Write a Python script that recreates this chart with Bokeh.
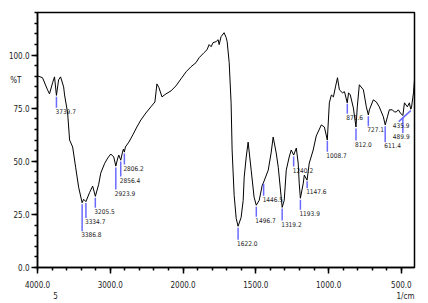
import numpy as np
from bokeh.plotting import figure
from bokeh.models import Range1d, FixedTicker, LinearAxis
from bokeh.core.properties import value
from bokeh.embed import file_html
from bokeh.resources import INLINE

# ---- data ----
wavenumber = [4000, 3931, 3862, 3835, 3793, 3766, 3740, 3710, 3683, 3641, 3628, 3586, 3559, 3517,
              3476, 3435, 3387, 3366, 3335, 3283, 3242, 3205, 3159, 3131, 3076, 3035, 2993, 2952,
              2924, 2897, 2883, 2856, 2835, 2820, 2806, 2793, 2745, 2690, 2635, 2580, 2511, 2442,
              2387, 2359, 2331, 2290, 2235, 2166, 2097, 2028,
              1979, 1945, 1911, 1890, 1856, 1835, 1821, 1807, 1794, 1773, 1759, 1752, 1739, 1718,
              1704, 1697, 1683, 1670, 1663, 1649, 1635, 1622, 1601, 1587, 1580, 1566, 1553, 1532,
              1512, 1497, 1477, 1456, 1446, 1415, 1395, 1381, 1360, 1346, 1319, 1305, 1291, 1271,
              1257, 1240, 1222, 1209, 1202, 1194, 1174, 1167, 1148, 1133, 1106, 1085, 1050, 1029,
              1009, 995, 981, 967, 953, 939, 926, 905, 891, 872, 863, 851, 830, 812, 803, 789,
              761, 741, 727, 720, 693, 672, 652, 624, 611, 596, 583, 562, 548, 535, 521, 507,
              490, 479, 459, 445, 436, 431, 417, 410]
transmittance = [90.2, 89.3, 83.6, 81.7, 86.9, 89.7, 81.0, 88.3, 89.7, 85.0, 81.2, 72.7, 60.0, 56.7,
                 47.2, 37.8, 30.5, 32.1, 31.0, 35.4, 38.3, 33.5, 39.2, 44.4, 49.1, 51.5, 53.4, 52.0,
                 47.7, 51.5, 52.9, 50.5, 53.9, 55.7, 54.3, 56.7, 59.0, 62.4, 66.1, 69.4, 72.7, 75.6,
                 77.9, 86.4, 84.6, 80.3, 81.7, 83.1, 85.5, 88.8,
                 92.1, 94.5, 96.4, 98.7, 101.1, 102.5, 104.9, 103.9, 105.8, 106.3, 107.2, 104.9, 108.6, 110.5,
                 108.2, 106.3, 96.4, 77.5, 55.3, 34.0, 23.1, 19.4, 23.6, 31.6, 42.5, 52.0, 59.0, 45.8,
                 33.1, 29.3, 31.6, 38.7, 40.2, 45.8, 53.9, 61.4, 53.9, 47.2, 28.3, 31.6, 45.8, 52.0,
                 55.3, 52.9, 56.2, 49.1, 39.7, 32.6, 39.7, 43.5, 41.1, 49.1, 55.3, 61.9, 67.1, 66.1,
                 60.0, 77.5, 81.2, 80.3, 85.0, 89.3, 83.6, 82.2, 82.7, 77.5, 82.2, 81.2, 75.1, 66.1, 75.6, 86.0,
                 83.6, 75.6, 71.8, 74.2, 78.9, 77.9, 75.6, 70.9, 67.1, 70.9, 74.2, 74.2, 73.2, 73.2, 74.2, 72.7,
                 71.5, 77.5, 75.6, 77.5, 74.5, 75.1, 82.2, 88.3]

peak_wn = [3739.7, 3386.8, 3334.7, 3205.5, 2923.9, 2856.4, 2806.2, 1622.0, 1496.7, 1446.5,
           1319.2, 1240.2, 1193.9, 1147.6, 1008.7, 871.6, 812.0, 727.1, 611.4, 489.9, 435.9]
peak_labels = ["3739.7", "3386.8", "3334.7", "3205.5", "2923.9", "2856.4", "2806.2", "1622.0",
               "1496.7", "1446.5", "1319.2", "1240.2", "1193.9", "1147.6", "1008.7", "871.6",
               "812.0", "727.1", "611.4", "489.9", "435.9"]

x_tick_wn = [4000, 3000, 2000, 1500, 1000, 500]
x_tick_labels = ["4000.0", "3000.0", "2000.0", "1500.0", "1000.0", "500.0"]
y_ticks = [0, 25, 50, 75, 100]
y_tick_labels = ["0.0", "25.0", "50.0", "75.0", "100.0"]
y_unit_label = "%T"
x_unit_label = "1/cm"
x_scan_label = "5"

# ---- layout (not data) ----
lead_len_px = [11, 27, 15, 10, 22, 15, 11, 12, 10, 12, 12, 10, 10, 7, 11, 10, 12, 10, 16, 16, 11]
lead_dx_px = [0] * 20 + [-12]
label_dx_px = [0] * 19 + [-9, -5]


def to_u(w):
    """Shimadzu-style split axis: 4000-2000 compressed by half."""
    w = np.asarray(w, dtype=float)
    return np.where(w >= 2000, (4000 - w) / 2.0, 1000 + (2000 - w))


FONT = "Liberation Sans Narrow, Arial Narrow, DejaVu Sans Condensed, sans-serif"
W, H = 428, 303
ML, MR, MT, MB = 37, 14, 12, 36
u_end = float(to_u(410))
y_end = 120
PX_U = u_end / (W - ML - MR)
PX_T = y_end / (H - MT - MB)

p = figure(width=W, height=H, output_backend="svg", toolbar_location=None,
           x_range=Range1d(0, u_end), y_range=Range1d(0, y_end),
           min_border_left=ML, min_border_right=MR, min_border_top=MT, min_border_bottom=MB)
p.background_fill_color = "white"
p.border_fill_color = "white"
p.grid.visible = False
p.outline_line_color = "black"
p.outline_line_width = 1.5

xu = to_u(wavenumber)
p.line(xu, transmittance, line_color="black", line_width=1)

# peak markers
pu = to_u(peak_wn)
order = np.argsort(xu)
pt = np.interp(pu, xu[order], np.asarray(transmittance)[order])
y0 = pt - 1.5 * PX_T
y1 = y0 - np.asarray(lead_len_px) * PX_T
x1 = pu + np.asarray(lead_dx_px) * PX_U
p.segment(x0=pu, y0=y0, x1=x1, y1=y1, line_color="#6a6aff", line_width=1.5)
lx = x1 + (np.asarray(label_dx_px) - 1) * PX_U
p.text(x=lx, y=y1 - 1.0 * PX_T, text=peak_labels, text_font=value(FONT),
       text_font_size="6.5px", text_align="left", text_baseline="top", text_color="#222222")

# axes
xt = [float(v) for v in to_u(x_tick_wn)]
p.xaxis.ticker = FixedTicker(ticks=xt, minor_ticks=list(range(0, int(u_end) + 1, 100)))
p.xaxis.major_label_overrides = {t: l for t, l in zip(xt, x_tick_labels)}
p.yaxis.ticker = FixedTicker(ticks=y_ticks, minor_ticks=list(range(0, 121, 5)))
p.yaxis.major_label_overrides = {t: l for t, l in zip(y_ticks, y_tick_labels)}
for ax in (p.xaxis[0], p.yaxis[0]):
    ax.axis_line_width = 1.5
    ax.axis_line_color = "black"
    ax.major_tick_in = 0
    ax.minor_tick_in = 0
    ax.major_tick_out = 6
    ax.minor_tick_out = 3
    ax.major_tick_line_width = 1.5
    ax.minor_tick_line_width = 1.5
    ax.major_label_text_font = FONT
    ax.major_label_text_font_size = "8px"
    ax.major_label_text_color = "#222222"
p.xaxis.major_label_standoff = 7
p.yaxis.major_label_standoff = 2

# unit labels drawn as bare extra axes (text only)
t_pos = 88.0
ax_y2 = LinearAxis(ticker=FixedTicker(ticks=[t_pos], minor_ticks=[]),
                   major_label_overrides={t_pos: y_unit_label})
x_pos_scan = 18 * PX_U
x_pos_unit = u_end - 9 * PX_U
ax_x2 = LinearAxis(ticker=FixedTicker(ticks=[x_pos_scan, x_pos_unit], minor_ticks=[]),
                   major_label_overrides={x_pos_scan: x_scan_label, x_pos_unit: x_unit_label})
for ax in (ax_y2, ax_x2):
    ax.axis_line_color = None
    ax.major_tick_line_color = None
    ax.minor_tick_line_color = None
    ax.major_tick_out = 0
    ax.major_tick_in = 0
    ax.major_label_text_font = FONT
    ax.major_label_text_font_size = "8px"
    ax.major_label_text_color = "#222222"
ax_y2.major_label_standoff = -16
ax_x2.major_label_standoff = 1
p.add_layout(ax_y2, "left")
p.add_layout(ax_x2, "below")

open("out.html", "w").write(file_html(p, INLINE))
